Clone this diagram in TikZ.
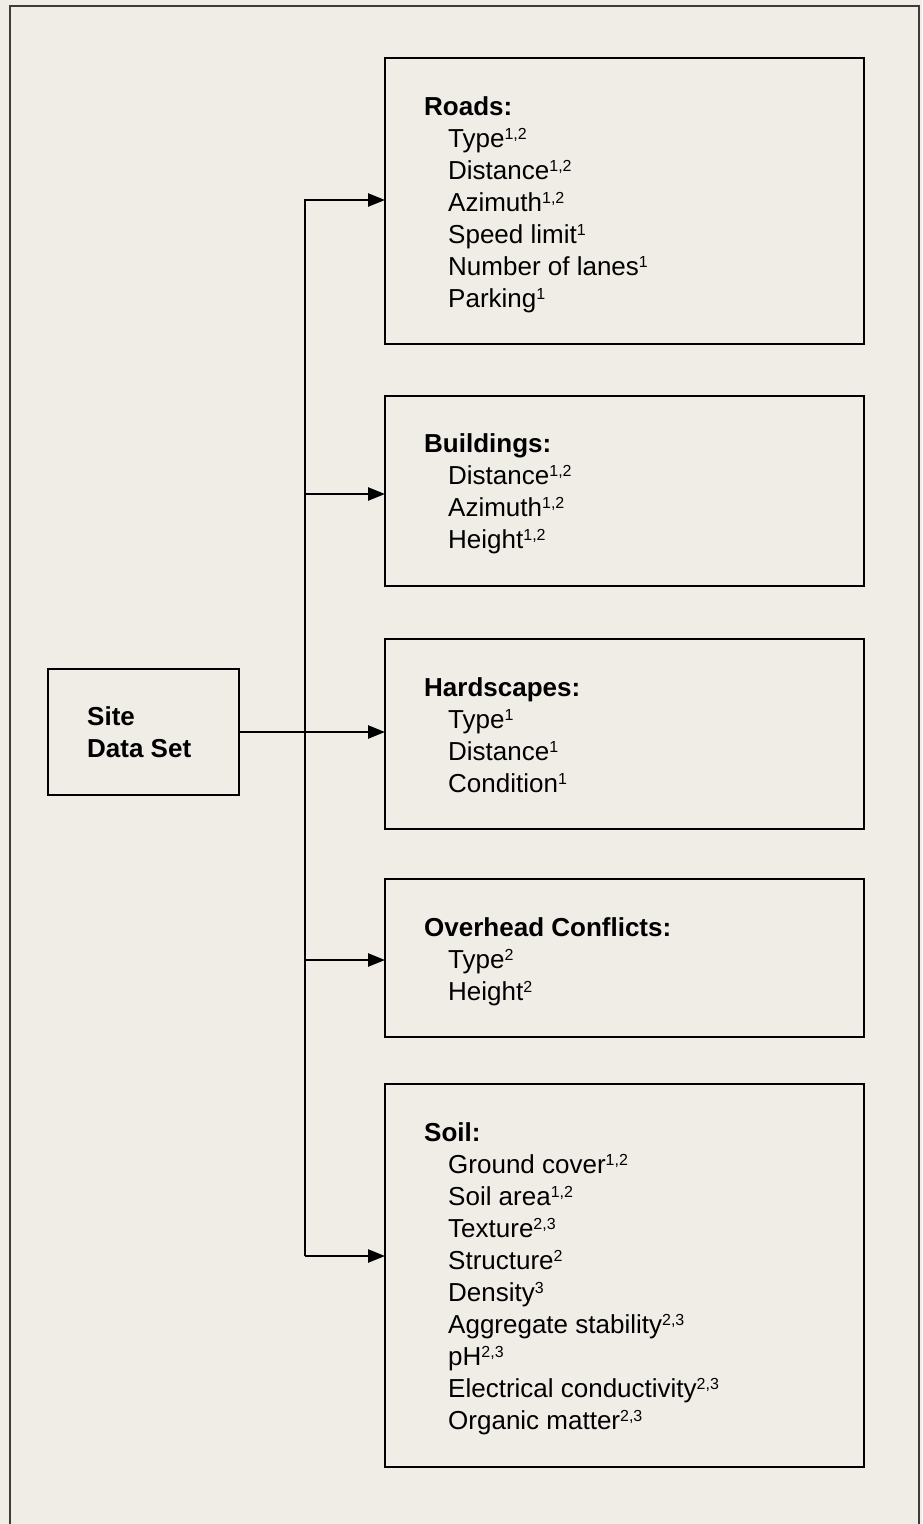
\documentclass[tikz,border=0pt]{standalone}
\usepackage{fontspec}
\setmainfont{Liberation Sans}
\usetikzlibrary{arrows.meta}
\definecolor{bgc}{RGB}{240,237,231}
\definecolor{framec}{RGB}{60,60,60}
\newcommand\sps[1]{\raisebox{8pt}{\fontsize{16}{16}\selectfont #1}}
\begin{document}
\begin{tikzpicture}[x=1pt,y=-1pt,
  box/.style={draw, line width=2.8pt, rectangle, inner sep=0pt, outer sep=0pt, anchor=north west, minimum width=479pt},
  ttl/.style={anchor=base west, inner sep=0pt, font=\fontsize{26}{32}\selectfont\bfseries},
  itm/.style={anchor=base west, inner sep=0pt, font=\fontsize{26}{32}\selectfont},
  conn/.style={line width=2.5pt},
  arr/.style={conn, -{Triangle[length=17pt,width=13pt]}}]
\fill[bgc] (0,0) rectangle (922,1524);
\useasboundingbox (0,0) rectangle (922,1524);
\draw[framec, line width=1.2pt] (10,1530) -- (10,6) -- (919,6) -- (919,1530);

% boxes
\node[box, minimum height=286pt] (roads) at (385,58) {};
\node[box, minimum height=190pt] (build) at (385,396) {};
\node[box, minimum height=190pt] (hard) at (385,639) {};
\node[box, minimum height=158pt] (over) at (385,879) {};
\node[box, minimum height=383pt] (soil) at (385,1084) {};
\node[box, minimum width=191pt, minimum height=126pt] (site) at (48,669) {};

% site text
\node[ttl] (site1) at (87,725) {Site};
\node[ttl] (site2) at (87,757) {Data Set};

% roads
\node[ttl] (rt) at (424,115) {Roads:};
\node[itm] (r1) at (448,147) {Type\sps{1,2}};
\node[itm] (r2) at (448,179) {Distance\sps{1,2}};
\node[itm] (r3) at (448,211) {Azimuth\sps{1,2}};
\node[itm] (r4) at (448,243) {Speed limit\sps{1}};
\node[itm] (r5) at (448,275) {Number of lanes\sps{1}};
\node[itm] (r6) at (448,307) {Parking\sps{1}};

% buildings
\node[ttl] (bt) at (424,452) {Buildings:};
\node[itm] (b1) at (448,484) {Distance\sps{1,2}};
\node[itm] (b2) at (448,516) {Azimuth\sps{1,2}};
\node[itm] (b3) at (448,548) {Height\sps{1,2}};

% hardscapes
\node[ttl] (ht) at (424,696) {Hardscapes:};
\node[itm] (h1) at (448,728) {Type\sps{1}};
\node[itm] (h2) at (448,760) {Distance\sps{1}};
\node[itm] (h3) at (448,792) {Condition\sps{1}};

% overhead
\node[ttl] (ot) at (424,936) {Overhead Conflicts:};
\node[itm] (o1) at (448,968) {Type\sps{2}};
\node[itm] (o2) at (448,1000) {Height\sps{2}};

% soil
\node[ttl] (st) at (424,1141) {Soil:};
\node[itm] (s1) at (448,1173) {Ground cover\sps{1,2}};
\node[itm] (s2) at (448,1205) {Soil area\sps{1,2}};
\node[itm] (s3) at (448,1237) {Texture\sps{2,3}};
\node[itm] (s4) at (448,1269) {Structure\sps{2}};
\node[itm] (s5) at (448,1301) {Density\sps{3}};
\node[itm] (s6) at (448,1333) {Aggregate stability\sps{2,3}};
\node[itm] (s7) at (448,1365) {pH\sps{2,3}};
\node[itm] (s8) at (448,1397) {Electrical conductivity\sps{2,3}};
\node[itm] (s9) at (448,1429) {Organic matter\sps{2,3}};

% connectors
\coordinate (j1) at (305,200);
\coordinate (j2) at (305,494);
\coordinate (j3) at (305,732);
\coordinate (j4) at (305,960);
\coordinate (j5) at (305,1256);
\draw[arr] (j5) -- (j1) -- (j1 -| roads.west);
\draw[arr] (j2) -- (j2 -| build.west);
\draw[arr] (site.east |- j3) -- (j3 -| hard.west);
\draw[arr] (j4) -- (j4 -| over.west);
\draw[arr] (j5) -- (j5 -| soil.west);
\end{tikzpicture}
\end{document}
